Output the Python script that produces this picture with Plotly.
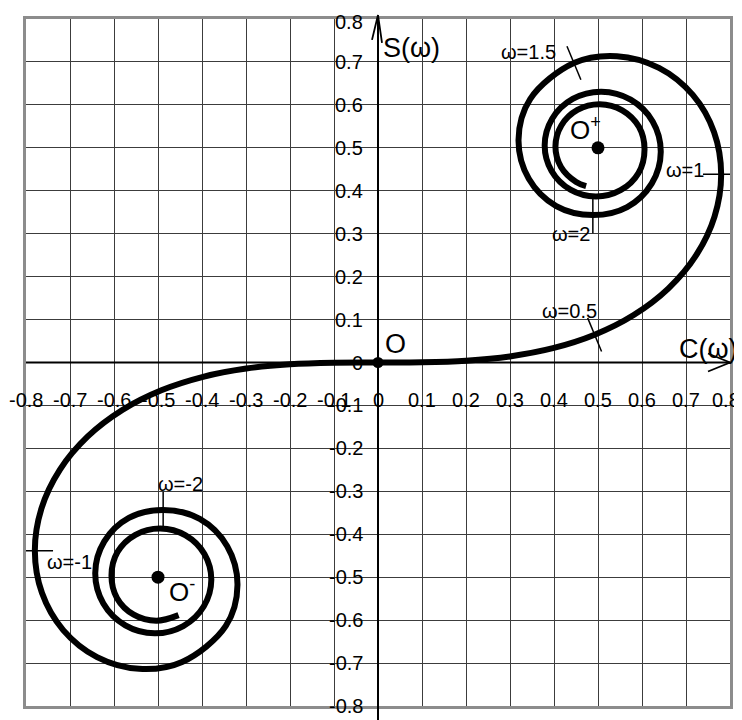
import plotly.graph_objects as go

# ---- data ---------------------------------------------------------------
# Cornu spiral, branch for omega >= 0 : C(omega), S(omega)
C_pos = [0.0, 0.09999, 0.19992, 0.29940, 0.39748, 0.49234, 0.58110, 0.65965,
         0.72284, 0.76482, 0.77989, 0.76381, 0.71544, 0.63855, 0.54310, 0.44526,
         0.34584, 0.31937, 0.34272, 0.40508, 0.48825, 0.56624, 0.62235, 0.64264,
         0.62422, 0.57428, 0.50763, 0.44251, 0.39583, 0.37882, 0.39451, 0.43730,
         0.49481, 0.55133, 0.59209, 0.60572, 0.59309, 0.55509, 0.50383, 0.45326,
         0.41668, 0.40327, 0.41587, 0.45037, 0.47297]
S_pos = [0.0, 0.00052, 0.00419, 0.01412, 0.03336, 0.06473, 0.11054, 0.17214,
         0.24934, 0.33977, 0.43826, 0.53650, 0.62340, 0.68633, 0.71353, 0.69750,
         0.61351, 0.51841, 0.42788, 0.36435, 0.34342, 0.36200, 0.41714, 0.49032,
         0.56144, 0.61222, 0.63066, 0.61377, 0.56780, 0.50621, 0.44584, 0.40240,
         0.38655, 0.40127, 0.44146, 0.49631, 0.54888, 0.58739, 0.60149, 0.58829,
         0.55216, 0.50336, 0.45515, 0.42023, 0.41073]
# the omega < 0 branch is the point-mirror of the positive one, drawn up to this index
NEG_LAST = 39

# marked omega values and their points on the curve
omega_marks = [0.5, 1, 1.5, 2, -1, -2]
mark_C = [0.4923, 0.7799, 0.4453, 0.4883, -0.7799, -0.4883]
mark_S = [0.0647, 0.4383, 0.6975, 0.3434, -0.4383, -0.3434]
mark_label_x = [0.435, 0.698, 0.342, 0.439, -0.702, -0.449]
mark_label_y = [0.119, 0.449, 0.722, 0.300, -0.465, -0.282]

# centres O, O+, O-
centre_x = [0.0, 0.5, -0.5]
centre_y = [0.0, 0.5, -0.5]

tick_vals = [-0.8, -0.7, -0.6, -0.5, -0.4, -0.3, -0.2, -0.1, 0.0,
             0.1, 0.2, 0.3, 0.4, 0.5, 0.6, 0.7, 0.8]
tick_text = ["-0.8", "-0.7", "-0.6", "-0.5", "-0.4", "-0.3", "-0.2", "-0.1", "0",
             "0.1", "0.2", "0.3", "0.4", "0.5", "0.6", "0.7", "0.8"]

# ---- figure ---------------------------------------------------------------
x_curve = [-C_pos[i] for i in range(NEG_LAST, 0, -1)] + C_pos
y_curve = [-S_pos[i] for i in range(NEG_LAST, 0, -1)] + S_pos

FONT = "Arial, Liberation Sans, sans-serif"

fig = go.Figure()
fig.add_trace(go.Scatter(x=x_curve, y=y_curve, mode="lines",
                         line=dict(color="black", width=6, shape="spline", smoothing=1),
                         hoverinfo="skip", showlegend=False))

fig.add_trace(go.Scatter(x=mark_C, y=mark_S, mode="markers",
                         marker=dict(symbol="line-ns", size=26, opacity=1,
                                     angle=[-90 * w * w for w in omega_marks],
                                     line=dict(color="black", width=1.5)),
                         hoverinfo="skip", showlegend=False))

fig.add_trace(go.Scatter(x=centre_x, y=centre_y, mode="markers",
                         marker=dict(symbol="circle", size=[11, 13, 13], color="#000000",
                                     opacity=1, line=dict(width=0)),
                         hoverinfo="skip", showlegend=False))

ann = []
last = len(tick_vals) - 1
for i, (v, t) in enumerate(zip(tick_vals, tick_text)):
    ann.append(dict(x=v, y=0, xref="x", yref="y", text=t, showarrow=False,
                    xanchor="right" if i == last else "center", yanchor="middle",
                    yshift=-37, xshift=12 if i == last else 0,
                    font=dict(family=FONT, size=20, color="black")))
    ann.append(dict(x=0, y=v, xref="x", yref="y", text=t, showarrow=False,
                    xanchor="right", yanchor="middle", xshift=-13,
                    yshift=-3 if i == last else 0,
                    font=dict(family=FONT, size=20, color="black")))

for w, lx, ly in zip(omega_marks, mark_label_x, mark_label_y):
    ann.append(dict(x=lx, y=ly, xref="x", yref="y", text="ω=%g" % w, showarrow=False,
                    xanchor="center", yanchor="middle",
                    font=dict(family=FONT, size=20, color="black")))

ann.append(dict(x=0.007, y=0.733, text="S(ω)", showarrow=False, xanchor="left",
                yanchor="middle", font=dict(family=FONT, size=27, color="black")))
ann.append(dict(x=0.752, y=0.032, text="C(ω)", showarrow=False, xanchor="center",
                yanchor="middle", font=dict(family=FONT, size=27, color="black")))
ann.append(dict(x=0.011, y=0.044, text="O", showarrow=False, xanchor="left",
                yanchor="middle", font=dict(family=FONT, size=27, color="black")))
ann.append(dict(x=0.432, y=0.545, text="O<sup>+</sup>", showarrow=False, xanchor="left",
                yanchor="middle", font=dict(family=FONT, size=26, color="black")))
ann.append(dict(x=-0.480, y=-0.531, text="O<sup>-</sup>", showarrow=False, xanchor="left",
                yanchor="middle", font=dict(family=FONT, size=26, color="black")))

# axes with arrows (paper coordinates so they may leave the frame)
W, H = 704.0, 690.0
def px(dx):
    return dx / W
def py(dy):
    return dy / H

shapes = [
    dict(type="line", xref="paper", yref="paper", x0=0.5, x1=0.5,
         y0=-py(14), y1=1 + py(4), line=dict(color="black", width=2)),
    dict(type="path", xref="paper", yref="paper",
         path="M %f,%f L %f,%f L %f,%f" % (0.5 - px(6), 1 - py(21), 0.5, 1 + py(4),
                                            0.5 + px(4), 1 - py(24)),
         line=dict(color="black", width=1.8)),
    dict(type="line", xref="paper", yref="paper", x0=0, x1=1, y0=0.5, y1=0.5,
         line=dict(color="black", width=2)),
    dict(type="path", xref="paper", yref="paper",
         path="M %f,%f L %f,%f L %f,%f" % (1 - px(22), 0.5 + py(9), 1, 0.5,
                                            1 - px(22), 0.5 - py(9)),
         line=dict(color="black", width=1.8)),
]

axis_common = dict(range=[-0.8, 0.8], dtick=0.1, tick0=0, showgrid=True,
                   gridcolor="#3c3c3c", gridwidth=1, zeroline=False,
                   showticklabels=False, ticks="", showline=True, mirror=True,
                   linecolor="#8c8c8c", linewidth=3, fixedrange=True)

# the page body adds an 8 px offset, so the figure is 734 x 712 to fill 742 x 720;
# plot area then spans x 26..730 and y 16..706 of the page
fig.update_layout(
    width=734, height=712,
    margin=dict(l=18, r=12, t=8, b=14),
    paper_bgcolor="white", plot_bgcolor="white",
    xaxis=axis_common, yaxis=axis_common,
    annotations=ann, shapes=shapes, showlegend=False,
)

fig.write_html("out.html")
